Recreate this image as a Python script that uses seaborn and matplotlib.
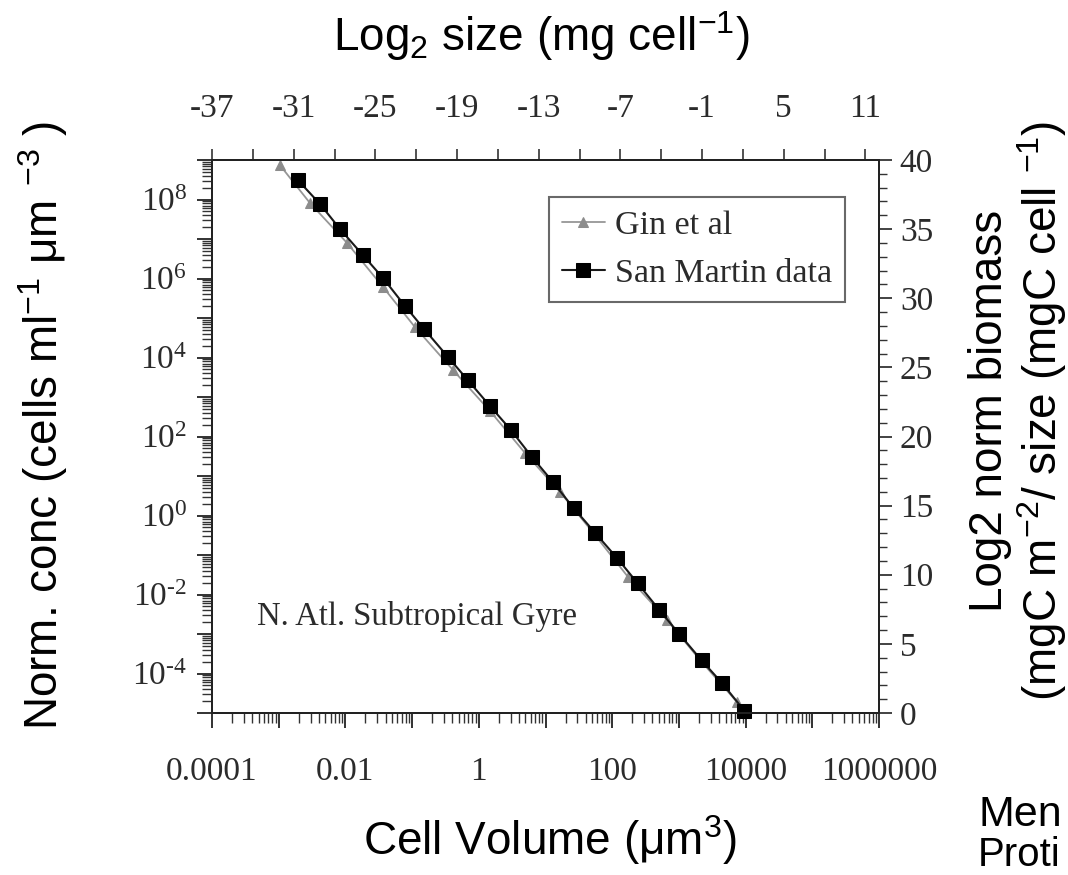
import matplotlib
matplotlib.use('Agg')
import matplotlib.pyplot as plt
import matplotlib.ticker as mticker
import numpy as np
import pandas as pd
import seaborn as sns

# ---------------- data ----------------
san_martin_volume = [0.00193, 0.00416, 0.0083, 0.0182, 0.0366, 0.0783, 0.151, 0.345,
                     0.682, 1.47, 2.99, 6.21, 12.8, 26.3, 55.2, 119, 241, 508,
                     1014, 2183, 4426, 9572]
san_martin_conc = [3.12e8, 7.69e7, 1.79e7, 3.94e6, 1.03e6, 2.01e5, 5.27e4, 1.03e4,
                   2.69e3, 592, 150, 30.8, 7.18, 1.55, 0.367, 0.0824, 0.0192,
                   0.00406, 0.001, 2.16e-4, 5.74e-5, 1.14e-5]
gin_volume = [0.00104, 0.00294, 0.0106, 0.0366, 0.110, 0.410, 1.47, 4.93, 16.5,
              55.2, 173, 664, 2070, 7430]
gin_conc = [7.46e8, 8.15e7, 7.92e6, 6.10e5, 5.92e4, 4.83e3, 443, 38.2, 3.94,
            0.321, 0.0277, 0.00226, 2.20e-4, 1.90e-5]

x_tick_values = [1e-4, 1e-2, 1, 1e2, 1e4, 1e6]
x_tick_labels = ['0.0001', '0.01', '1', '100', '10000', '1000000']
y_tick_values = [1e8, 1e6, 1e4, 1e2, 1e0, 1e-2, 1e-4]
y_tick_labels = [r'10$^{8}$', r'10$^{6}$', r'10$^{4}$', r'10$^{2}$', r'10$^{0}$',
                 '10$^{\u20102}$', '10$^{\u20104}$']
top_tick_values = [-37, -31, -25, -19, -13, -7, -1, 5, 11]
top_tick_labels = ['-37', '-31', '-25', '-19', '-13', '-7', '-1', '5', '11']
right_tick_values = [0, 5, 10, 15, 20, 25, 30, 35, 40]
right_tick_labels = ['0', '5', '10', '15', '20', '25', '30', '35', '40']

series_names = ['Gin et al', 'San Martin data']

# ---------------- style ----------------
sns.set_style('white')
plt.rcParams['font.family'] = ['Liberation Sans', 'DejaVu Sans']
plt.rcParams['mathtext.default'] = 'regular'

SERIF = ['Liberation Serif', 'DejaVu Serif']
TICK_COLOR = '#2b2b2b'
TICK_FS = 24
TITLE_FS = 33

W, H = 1068, 875
fig = plt.figure(figsize=(W / 100, H / 100), dpi=100)
L, R, T, B = 212, 879, 160, 713
ax = fig.add_axes([L / W, 1 - B / H, (R - L) / W, (B - T) / H])

df_gin = pd.DataFrame({'volume': gin_volume, 'conc': gin_conc, 'series': series_names[0]})
df_sm = pd.DataFrame({'volume': san_martin_volume, 'conc': san_martin_conc, 'series': series_names[1]})

ax.set_xscale('log')
ax.set_yscale('log')

sns.lineplot(data=df_gin, x='volume', y='conc', ax=ax, color='#969696', lw=1.3,
             marker='^', markersize=7, markeredgecolor='#8c8c8c',
             markerfacecolor='#8c8c8c', label=series_names[0], sort=False)
sns.lineplot(data=df_sm, x='volume', y='conc', ax=ax, color='#1a1a1a', lw=1.5,
             marker='s', markersize=9.5, markeredgecolor='#000000',
             markerfacecolor='#000000', label=series_names[1], sort=False,
             clip_on=False)

ax.set_xlim(1e-4, 1e6)
ax.set_ylim(1e-5, 1e9)


def make_log_formatter(values, labels):
    table = dict(zip(values, labels))

    def f(v, pos):
        for k, s in table.items():
            if abs(np.log10(v) - np.log10(k)) < 1e-6:
                return s
        return ''
    return mticker.FuncFormatter(f)


# bottom x ticks
ax.xaxis.set_major_locator(mticker.LogLocator(base=10, numticks=100))
ax.xaxis.set_major_formatter(make_log_formatter(x_tick_values, x_tick_labels))
ax.xaxis.set_minor_locator(mticker.LogLocator(base=10, subs=np.arange(2, 10), numticks=100))
ax.xaxis.set_minor_formatter(mticker.NullFormatter())

# left y ticks
ax.yaxis.set_major_locator(mticker.LogLocator(base=10, numticks=100))
ax.yaxis.set_major_formatter(make_log_formatter(y_tick_values, y_tick_labels))
ax.yaxis.set_minor_locator(mticker.LogLocator(base=10, subs=np.arange(2, 10), numticks=100))
ax.yaxis.set_minor_formatter(mticker.NullFormatter())

ax.tick_params(axis='both', which='major', direction='out', length=11, width=1.3,
               color='#222222', labelsize=TICK_FS, labelcolor=TICK_COLOR)
ax.tick_params(axis='both', which='minor', direction='out', length=7, width=1.0,
               color='#333333')
ax.tick_params(axis='x', which='major', pad=20)
ax.tick_params(axis='y', which='major', pad=7)
for lab in ax.get_xticklabels() + ax.get_yticklabels():
    lab.set_fontfamily(SERIF)

ax.set_xlabel('Cell Volume (μm$^{3}$)', fontsize=TITLE_FS, color='black')
ax.xaxis.set_label_coords((550 - L) / (R - L), (B - 840) / (B - T))
ax.xaxis.label.set_verticalalignment('center')
ax.set_ylabel('Norm. conc (cells ml$^{-1}$ μm $^{-3}$ )', fontsize=TITLE_FS,
              color='black')
ax.yaxis.set_label_coords((43 - L) / (R - L), (B - 425) / (B - T))
ax.yaxis.label.set_verticalalignment('center')

# right axis
axr = ax.twinx()
axr.set_ylim(0, 40)
axr.set_yticks(right_tick_values, right_tick_labels)
axr.yaxis.set_minor_locator(mticker.MultipleLocator(1))
axr.tick_params(axis='y', which='major', direction='out', length=9, width=1.2,
                color='#222222', labelsize=TICK_FS, labelcolor=TICK_COLOR, pad=6)
axr.tick_params(axis='y', which='minor', direction='out', length=6, width=1.0,
                color='#333333')
for lab in axr.get_yticklabels():
    lab.set_fontfamily(SERIF)

# top axis
axt = ax.twiny()
axt.set_xlim(-37, 12)
axt.set_xticks(top_tick_values, top_tick_labels)
axt.xaxis.set_minor_locator(mticker.MultipleLocator(3, offset=-37 % 3))
axt.tick_params(axis='x', which='major', direction='out', length=8, width=1.1,
                color='#222222', labelsize=TICK_FS, labelcolor=TICK_COLOR, pad=18)
axt.tick_params(axis='x', which='minor', direction='out', length=8, width=1.1,
                color='#222222')
for lab in axt.get_xticklabels():
    lab.set_fontfamily(SERIF)
axt.set_xlabel('Log$_{2}$ size (mg cell$^{-1}$)', fontsize=TITLE_FS, color='black')
axt.xaxis.set_label_coords((541 - L) / (R - L), (B - 36) / (B - T))
axt.xaxis.label.set_verticalalignment('center')

for a in (ax, axr, axt):
    for sp in a.spines.values():
        sp.set_color('#222222')
        sp.set_linewidth(1.4)
        sp.set_visible(True)

# legend
leg = ax.legend(loc='upper right', bbox_to_anchor=((845 - L) / (R - L), (B - 197) / (B - T)),
                frameon=True, fancybox=False, shadow=False, borderpad=0.38,
                labelspacing=0.5, handlelength=1.25, handletextpad=0.3,
                borderaxespad=0.0, prop={'family': SERIF, 'size': 24.5})
leg.get_frame().set_edgecolor('#444444')
leg.get_frame().set_linewidth(1.5)
for t in leg.get_texts():
    t.set_color('#2b2b2b')

ax.text((257 - L) / (R - L), (B - 617) / (B - T), 'N. Atl. Subtropical Gyre',
        transform=ax.transAxes, ha='left', va='center', fontsize=23.5,
        family=SERIF, color='#2b2b2b')

# right-hand titles
fig.text(990 / W, 1 - 411 / H, 'Log2 norm biomass', rotation=90, ha='center',
         va='center', fontsize=TITLE_FS, color='black')
fig.text(1042 / W, 1 - 411 / H, '(mgC m$^{-2}$/ size (mgC cell $^{-1}$)', rotation=90,
         ha='center', va='center', fontsize=TITLE_FS, color='black')

fig.text(978 / W, 1 - 815 / H, 'Men', ha='left', va='center', fontsize=31,
         color='black')
fig.text(978 / W, 1 - 874 / H, 'Proti', ha='left', va='bottom', fontsize=29,
         color='black')

fig.savefig('out.png', dpi=100)
